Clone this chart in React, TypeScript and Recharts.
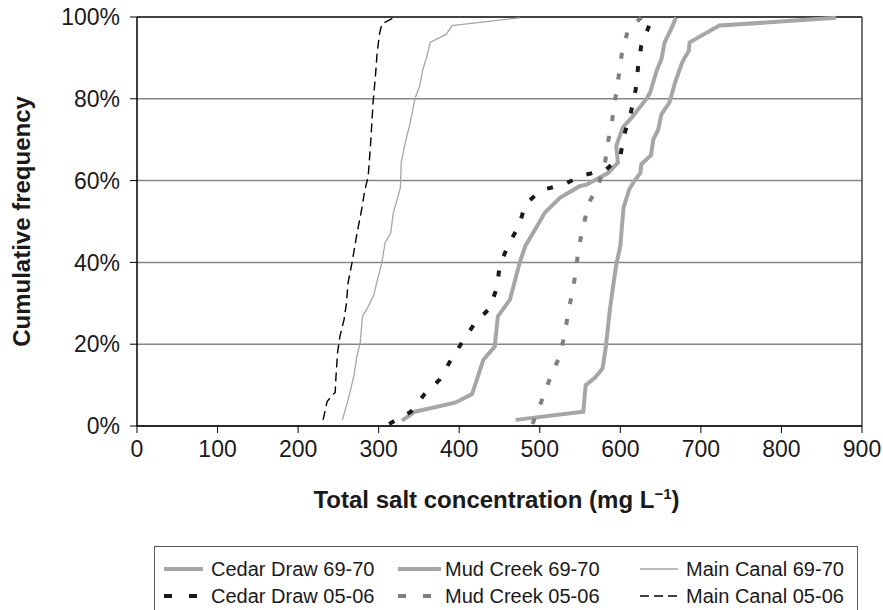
import { LineChart, Line, XAxis, YAxis, CartesianGrid, ReferenceLine, Label } from 'recharts';

const FONT = '"Liberation Sans", Arial, sans-serif';

// tick values
const xTicks = [0, 100, 200, 300, 400, 500, 600, 700, 800, 900];
const yTicks = [0, 20, 40, 60, 80, 100];

// concentration (mg/L) vs cumulative frequency (%)
const cedarDraw6970Conc = [329, 345, 395, 416, 430, 444, 448, 463, 475, 482, 494, 506, 525, 550, 558, 585, 597, 595, 603, 614, 632, 637, 645, 651, 655, 665, 669];
const cedarDraw6970Freq = [1.3, 3.5, 5.7, 7.8, 16.2, 19.4, 26.8, 30.9, 39.9, 44, 48, 52.1, 55.8, 58.7, 59, 61.9, 64.4, 68.5, 73, 75.4, 79.9, 81.5, 86.8, 89.7, 93.8, 97.9, 99.9];

const mudCreek6970Conc = [470, 554, 557, 568, 578, 582, 587, 591, 595, 600, 602, 604, 611, 616, 625, 626, 638, 641, 647, 651, 661, 668, 676, 680, 685, 686, 723, 868];
const mudCreek6970Freq = [1.5, 3.5, 10, 11.7, 14.1, 19.4, 28.4, 34.1, 39.5, 44, 48.8, 53.4, 57.8, 59.5, 61.9, 64, 66.2, 70.1, 72.5, 76.2, 79.1, 84, 88.5, 90.1, 91.7, 93.8, 97.9, 99.8];

const mainCanal6970Conc = [255, 262, 269, 273, 277, 280, 287, 294, 298, 304, 308, 315, 318, 327, 328, 333, 339, 345, 351, 355, 360, 364, 384, 391, 475];
const mainCanal6970Freq = [1.5, 6.4, 12, 17, 20.3, 26.8, 29.2, 32, 35.4, 40, 44.8, 47.2, 52, 58.3, 64.4, 69.3, 74, 80, 83.2, 87.3, 90.5, 93.8, 95.8, 97.9, 99.8];

const cedarDraw0506Conc = [313, 340, 357, 376, 390, 405, 420, 438, 447, 450, 461, 474, 482, 502, 529, 554, 582, 600, 605, 613, 619, 622, 626, 636, 638];
const cedarDraw0506Freq = [0.5, 3.5, 7.8, 11.4, 16.3, 20.9, 25.3, 28.8, 34, 39, 44.4, 48.8, 54.2, 57.7, 59, 61.3, 62.6, 66, 71.3, 76.6, 82.2, 87.7, 93, 98, 99.5];

const mudCreek0506Conc = [491, 502, 512, 523, 530, 535, 540, 545, 548, 554, 560, 573, 581, 585, 590, 594, 598, 602, 609, 626];
const mudCreek0506Freq = [0.5, 6, 11.3, 16.3, 21.5, 27.2, 32.5, 37.8, 43.5, 48.6, 54.2, 59, 64.4, 69.7, 75, 80.3, 85.6, 91.2, 96.5, 99.9];

const mainCanal0506Conc = [231, 236, 243, 246, 247, 249, 252, 257, 260, 262, 267, 273, 278, 283, 287, 290, 293, 296, 298, 301, 304, 318];
const mainCanal0506Freq = [1.5, 6, 7.6, 8.2, 12, 18, 22, 26, 30, 35, 40, 47, 52, 57.8, 61, 69, 79, 85.6, 91, 95.8, 98.3, 99.8];

const toPoints = (conc: number[], freq: number[]) => conc.map((c, i) => ({ conc: c, freq: freq[i] }));

const series = [
  { name: 'Cedar Draw 69-70', data: toPoints(cedarDraw6970Conc, cedarDraw6970Freq), stroke: '#a6a6a6', width: 4, dash: undefined, legendDash: undefined, col: 0, row: 0 },
  { name: 'Mud Creek 69-70', data: toPoints(mudCreek6970Conc, mudCreek6970Freq), stroke: '#a6a6a6', width: 4, dash: undefined, legendDash: undefined, col: 1, row: 0 },
  { name: 'Main Canal 69-70', data: toPoints(mainCanal6970Conc, mainCanal6970Freq), stroke: '#a6a6a6', width: 1.3, dash: undefined, legendDash: undefined, col: 2, row: 0 },
  { name: 'Mud Creek 05-06', data: toPoints(mudCreek0506Conc, mudCreek0506Freq), stroke: '#7f7f7f', width: 4, dash: '6 15', legendDash: '8 17', col: 1, row: 1 },
  { name: 'Cedar Draw 05-06', data: toPoints(cedarDraw0506Conc, cedarDraw0506Freq), stroke: '#1a1a1a', width: 4, dash: '6 15', legendDash: '8 17', col: 0, row: 1 },
  { name: 'Main Canal 05-06', data: toPoints(mainCanal0506Conc, mainCanal0506Freq), stroke: '#000000', width: 1.4, dash: '9 5', legendDash: '9 5', col: 2, row: 1 },
];

// legend column offsets inside the box
const legendCols = [
  { line: 9, lineLen: 39, text: 56 },
  { line: 243, lineLen: 43, text: 290 },
  { line: 485, lineLen: 38, text: 531 },
];
const legendRows = [22, 49];

function ChartLegend() {
  return (
    <div
      style={{
        position: 'absolute',
        left: 154,
        top: 546,
        width: 702,
        height: 80,
        border: '1px solid #595959',
        background: '#fff',
        fontFamily: FONT,
        fontSize: 20,
        color: '#1a1a1a',
      }}
    >
      {series.map(s => {
        const c = legendCols[s.col];
        const cy = legendRows[s.row];
        return (
          <div key={s.name}>
            <svg style={{ position: 'absolute', left: c.line, top: cy - 6 }} width={c.lineLen} height={12}>
              <line
                x1={0}
                y1={6}
                x2={c.lineLen}
                y2={6}
                stroke={s.stroke}
                strokeWidth={s.width > 2 ? 4 : 1.4}
                strokeDasharray={s.legendDash}
              />
            </svg>
            <span style={{ position: 'absolute', left: c.text, top: cy - 10, lineHeight: '20px', whiteSpace: 'nowrap' }}>
              {s.name}
            </span>
          </div>
        );
      })}
    </div>
  );
}

const XTitle = (props: any) => {
  const { x, y, width } = props.viewBox;
  return (
    <text x={x + width / 2 - 3} y={y + 82} textAnchor="middle" fontFamily={FONT} fontSize={24} fontWeight="bold" fill="#1a1a1a">
      Total salt concentration (mg L
      <tspan dy={-9} fontSize={15}>−1</tspan>
      <tspan dy={9}>)</tspan>
    </text>
  );
};

const YTitle = (props: any) => {
  const { y, height } = props.viewBox;
  return (
    <text
      transform={`translate(30, ${y + height / 2}) rotate(-90)`}
      textAnchor="middle"
      fontFamily={FONT}
      fontSize={24}
      fontWeight="bold"
      fill="#1a1a1a"
    >
      Cumulative frequency
    </text>
  );
};

export default function App() {
  return (
    <div style={{ position: 'absolute', left: 0, top: 0, width: 883, height: 610, overflow: 'hidden', background: '#fff' }}>
      <LineChart width={883} height={610} margin={{ top: 17, right: 21, bottom: 0, left: 0 }}>
        <CartesianGrid vertical={false} stroke="#868686" strokeWidth={1.5} />
        <XAxis
          type="number"
          dataKey="conc"
          domain={[0, 900]}
          ticks={xTicks}
          interval={0}
          height={184}
          tickSize={7}
          tickMargin={8}
          axisLine={{ stroke: '#000', strokeWidth: 1.5 }}
          tickLine={{ stroke: '#000' }}
          tick={{ fontSize: 23, fill: '#1a1a1a', fontFamily: FONT }}
          allowDuplicatedCategory={false}
        >
          <Label content={XTitle} />
        </XAxis>
        <YAxis
          type="number"
          domain={[0, 100]}
          ticks={yTicks}
          interval={0}
          width={137}
          tickSize={7}
          tickMargin={10}
          tickFormatter={(v: number) => `${v}%`}
          axisLine={{ stroke: '#000', strokeWidth: 1.5 }}
          tickLine={{ stroke: '#000' }}
          tick={{ fontSize: 23, fill: '#1a1a1a', fontFamily: FONT }}
        >
          <Label content={YTitle} />
        </YAxis>
        <ReferenceLine y={100} stroke="#222" strokeWidth={1.5} />
        <ReferenceLine x={900} stroke="#444" strokeWidth={1.5} />
        {series.map(s => (
          <Line
            key={s.name}
            name={s.name}
            data={s.data}
            dataKey="freq"
            type="linear"
            stroke={s.stroke}
            strokeWidth={s.width}
            strokeDasharray={s.dash}
            dot={false}
            activeDot={false}
            isAnimationActive={false}
          />
        ))}
      </LineChart>
      <ChartLegend />
    </div>
  );
}
